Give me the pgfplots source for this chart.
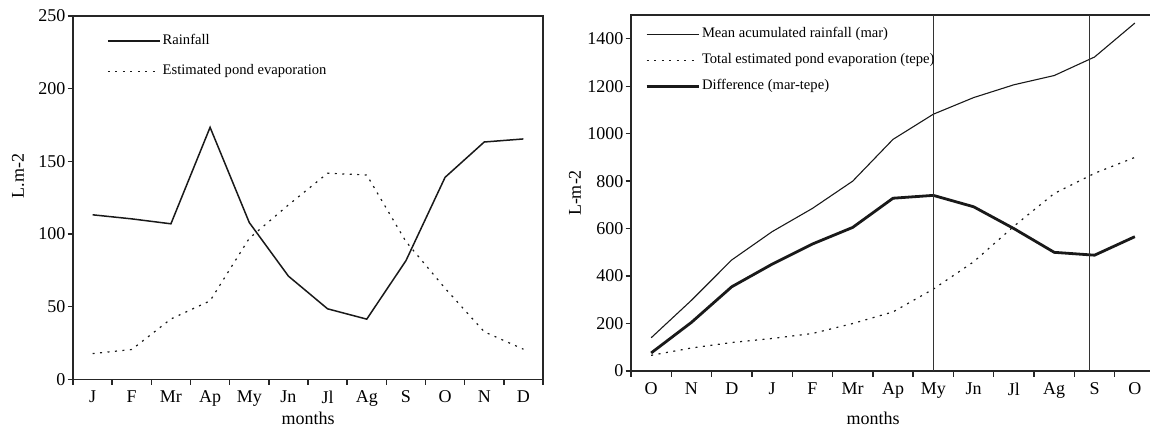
\documentclass[border=0pt]{standalone}
\usepackage{fontspec}
\setmainfont{Liberation Serif}
\usepackage{pgfplots}
\pgfplotsset{compat=1.18}
\pgfplotstableread{
x rain evap
0 113.2 17.7
1 110.4 20.5
2 107.0 41.5
3 173.4 54.0
4 107.9 97.0
5 71.0 120.0
6 48.5 141.8
7 41.4 140.6
8 81.6 94.8
9 139.0 62.6
10 163.3 32.7
11 165.4 20.7
}\lefttable
\pgfplotstableread{
x mar tepe diff
0 140 66 76
1 298 97 205
2 468 120 355
3 587 137 450
4 685 158 535
5 800 200 605
6 976 249 728
7 1082 345 740
8 1152 460 692
9 1206 610 600
10 1245 748 500
11 1323 833 488
12 1466 900 566
}\righttable
\pgfplotsset{
  mystyle/.style={
    scale only axis,
    axis line style={line width=1.4pt, draw=black!85},
    tick style={line width=1.4pt, draw=black!85},
    tick align=outside,
    major tick length=5.5pt,
    xtick pos=bottom, ytick pos=left,
    x tick label as interval,
    /pgf/number format/assume math mode=true,
    /pgf/number format/1000 sep={},
    tick label style={font=\fontsize{18}{20}\selectfont},
    label style={font=\fontsize{18}{20}\selectfont},
    yticklabel style={inner xsep=2pt},
    xticklabel style={inner ysep=6pt},
    legend cell align=left,
    legend style={draw=none, fill=none, inner sep=0pt, row sep=0pt,
      font=\fontsize{14.6}{16}\selectfont,
      nodes={inner xsep=2pt, inner ysep=0pt, text height=10pt, text depth=3pt}},
    legend image code/.code={\draw[##1] (0pt,0pt) -- (52pt,0pt);},
  }
}
\begin{document}
\begin{tikzpicture}
\useasboundingbox (0,0) rectangle (1150pt,429pt);
\begin{axis}[mystyle,
  at={(73pt,49.7pt)}, anchor=south west,
  width=470pt, height=363.3pt,
  xmin=-0.5, xmax=11.5, ymin=0, ymax=250,
  xtick={-0.5,0.5,1.5,2.5,3.5,4.5,5.5,6.5,7.5,8.5,9.5,10.5,11.5},
  xticklabels={J,F,Mr,Ap,My,Jn,Jl,Ag,S,O,N,D},
  ytick={0,50,100,150,200,250},
  xlabel={months}, ylabel={L.m-2},
  xlabel style={at={(rel axis cs:0.5,0)}, anchor=center, yshift=-39pt},
  ylabel style={at={(rel axis cs:0,0.56)}, anchor=center, yshift=55pt},
  legend style={at={(rel axis cs:0.0723,0.949)}, anchor=north west,
    row sep=17pt},
]
\addplot[line width=1.5pt, black!90] table[x=x,y=rain] {\lefttable};
\addlegendentry{Rainfall}
\addplot[line width=1.2pt, black!90, dash pattern=on 2pt off 5.5pt] table[x=x,y=evap] {\lefttable};
\addlegendentry{Estimated pond evaporation}
\end{axis}
\begin{axis}[mystyle,
  at={(631pt,58pt)}, anchor=south west,
  width=524pt, height=356pt,
  xmin=-0.5, xmax=12.5, ymin=0, ymax=1500,
  xtick={-0.5,0.5,1.5,2.5,3.5,4.5,5.5,6.5,7.5,8.5,9.5,10.5,11.5,12.5},
  xticklabels={O,N,D,J,F,Mr,Ap,My,Jn,Jl,Ag,S,O},
  ytick={0,200,400,600,800,1000,1200,1400},
  xlabel={months}, ylabel={L-m-2},
  xlabel style={at={(rel axis cs:0.462,0)}, anchor=center, yshift=-47pt},
  ylabel style={at={(rel axis cs:0,0.5)}, anchor=center, yshift=56pt},
  legend style={at={(rel axis cs:0.0267,0.9649)}, anchor=north west,
    row sep=13pt},
]
\addplot[line width=1.1pt, black!90] table[x=x,y=mar] {\righttable};
\addlegendentry{Mean acumulated rainfall (mar)}
\addplot[line width=1.2pt, black!90, dash pattern=on 2pt off 5.5pt] table[x=x,y=tepe] {\righttable};
\addlegendentry{Total estimated pond evaporation (tepe)}
\addplot[line width=2.8pt, black!90] table[x=x,y=diff] {\righttable};
\addlegendentry{Difference (mar-tepe)}
\addplot[line width=1.1pt, black!80, forget plot] coordinates {(7,0) (7,1500)};
\addplot[line width=1.1pt, black!80, forget plot] coordinates {(10.87,0) (10.87,1500)};
\end{axis}
\end{tikzpicture}
\end{document}
